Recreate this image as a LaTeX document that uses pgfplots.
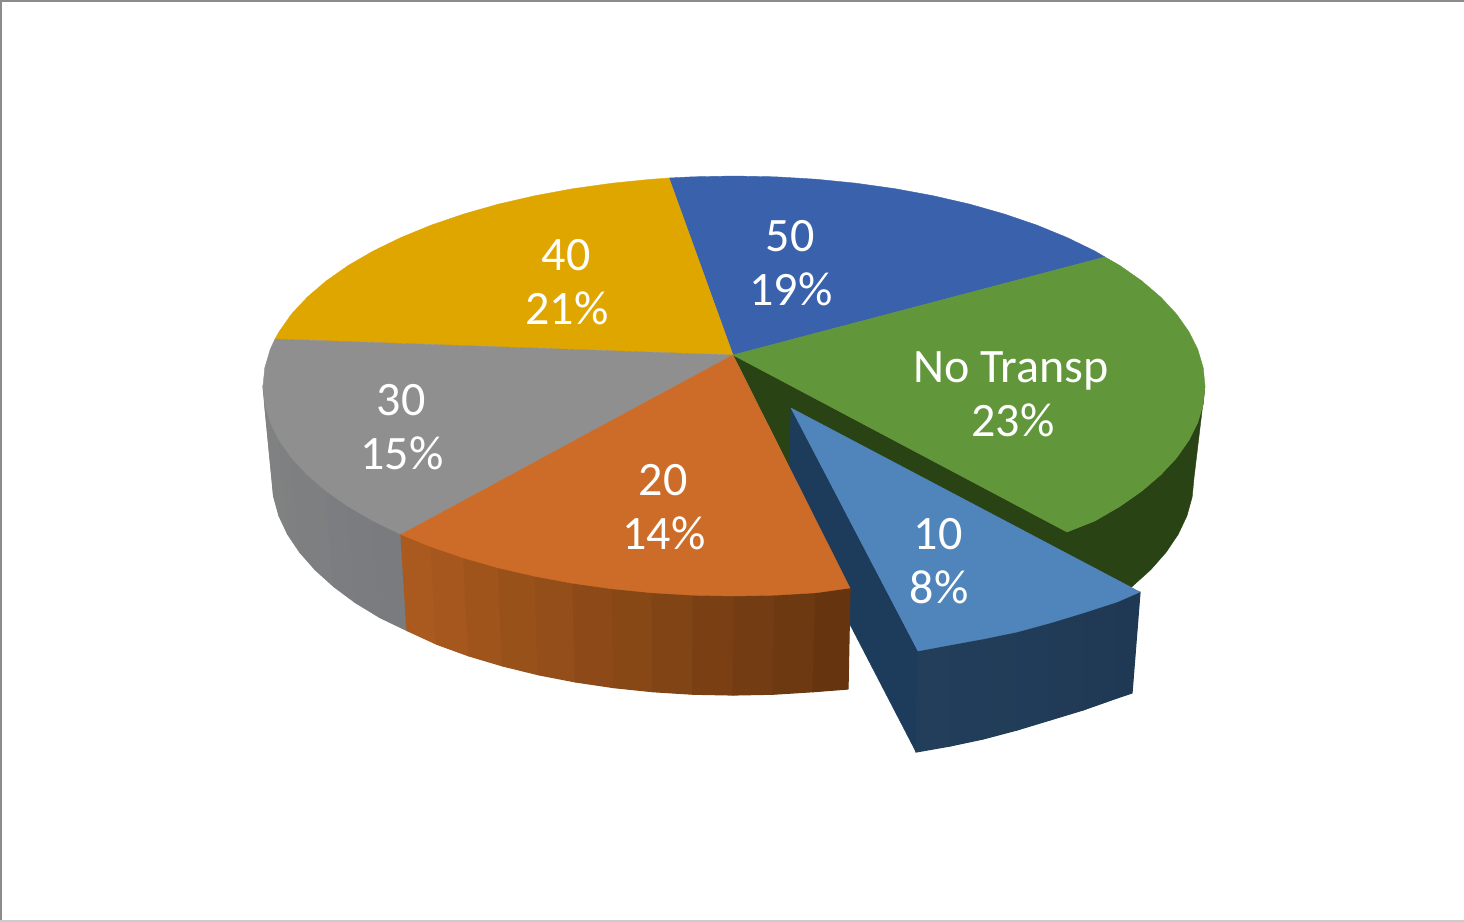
\documentclass[border=0pt]{standalone}
\usepackage{pgfplots}
\usepackage{fontspec}
\setmainfont{Carlito}
\pgfplotsset{compat=1.18}

\definecolor{cBlue}{RGB}{58,98,172}
\definecolor{cGreen}{RGB}{98,150,58}
\definecolor{cGreenDark}{RGB}{42,67,21}
\definecolor{cYellow}{RGB}{224,166,0}
\definecolor{cGray}{RGB}{143,143,143}
\definecolor{cOrange}{RGB}{205,108,40}
\definecolor{cSky}{RGB}{80,133,187}
\definecolor{cNavy}{RGB}{29,60,92}
\definecolor{sideGrayA}{RGB}{130,130,130}
\definecolor{sideGrayB}{RGB}{121,123,127}
\definecolor{sideOrangeA}{RGB}{170,90,30}
\definecolor{sideOrangeB}{RGB}{102,53,15}
\definecolor{sideNavyA}{RGB}{35,62,90}
\definecolor{sideNavyB}{RGB}{31,57,85}

% one facet of a slice wall: fill colour, then four corners
\newcommand{\band}[5]{\addplot[fill={#1},draw={#1},line width=0.6pt,line join=round] coordinates {#2 #3 #4 #5} --cycle;}
% one label: horizontal centre, baseline, text
\newcommand{\lab}[3]{\node[anchor=base,text=white,inner sep=0pt,font=\fontsize{24}{24}\selectfont] at (axis cs:#1,#2) {#3};}

\begin{document}
\begin{tikzpicture}
\useasboundingbox (0,0) rectangle (732pt,461pt);
\begin{axis}[
  at={(0,0)}, anchor=south west,
  width=732pt, height=461pt, scale only axis,
  hide axis, xmin=0, xmax=1464, ymin=0, ymax=922, y dir=reverse,
]
% frame
\addplot[draw=black!45,line width=1pt] coordinates {(1,922) (1,0.5) (1464,0.5)};
\addplot[draw=black!20,line width=1pt] coordinates {(0,921) (1464,921)};

% walls of the grey slice
\band{sideGrayA!100!sideGrayB}{(263,386)}{(264.8,404.3)}{(273.8,496.9)}{(272,478)}
\band{sideGrayA!90!sideGrayB}{(264.8,404.3)}{(270.2,422.5)}{(279,515.7)}{(273.8,496.9)}
\band{sideGrayA!80!sideGrayB}{(270.2,422.5)}{(279.1,440.3)}{(287.7,534.2)}{(279,515.7)}
\band{sideGrayA!70!sideGrayB}{(279.1,440.3)}{(291.4,457.8)}{(299.8,552.2)}{(287.7,534.2)}
\band{sideGrayA!60!sideGrayB}{(291.4,457.8)}{(307.1,474.7)}{(315.2,569.7)}{(299.8,552.2)}
\band{sideGrayA!50!sideGrayB}{(307.1,474.7)}{(326.1,491)}{(333.8,586.5)}{(315.2,569.7)}
\band{sideGrayA!35!sideGrayB}{(326.1,491)}{(348.2,506.5)}{(355.3,602.5)}{(333.8,586.5)}
\band{sideGrayA!20!sideGrayB}{(348.2,506.5)}{(373.2,521)}{(379.9,617.5)}{(355.3,602.5)}
\band{sideGrayA!0!sideGrayB}{(373.2,521)}{(401,534.5)}{(407,630.5)}{(379.9,617.5)}

% walls of the green slice
\addplot[fill=cGreenDark,draw=cGreenDark,line width=0.2pt] coordinates {
  (733,355) (1067,532) (1094.8,521) (1119.8,506.5) (1141.9,491) (1160.9,474.7)
  (1176.6,457.8) (1188.9,440.3) (1197.8,422.5) (1203.2,404.3) (1205,386)
  (1194,478) (1192.2,496.9) (1187,515.7) (1178.3,534.2) (1166.2,552.2)
  (1150.8,569.7) (1132.2,586.5) (1110.7,602.5) (1086.1,617.5) (1059,631.4)
  (733,450)} --cycle;

% top faces
\addplot[fill=cBlue,draw=cBlue,line width=0.2pt] coordinates {
  (733,355) (669,178) (692.9,176.8) (734,176) (775.1,176.8) (815.8,179.2)
  (855.9,183.2) (895.1,188.7) (933,195.7) (969.5,204.1) (1004.2,214)
  (1036.8,225.1) (1067,237.5) (1094.8,251) (1105,257)} --cycle;
\addplot[fill=cGreen,draw=cGreen,line width=0.2pt] coordinates {
  (733,355) (1105,257) (1119.8,265.5) (1141.9,281) (1160.9,297.3) (1176.6,314.2)
  (1188.9,331.7) (1197.8,349.5) (1203.2,367.7) (1205,386) (1203.2,404.3)
  (1197.8,422.5) (1188.9,440.3) (1176.6,457.8) (1160.9,474.7) (1141.9,491)
  (1119.8,506.5) (1094.8,521) (1067,532)} --cycle;
\addplot[fill=cYellow,draw=cYellow,line width=0.2pt] coordinates {
  (733,355) (275,339) (279.1,331.7) (291.4,314.2) (307.1,297.3) (326.1,281)
  (348.2,265.5) (373.2,251) (401,237.5) (431.2,225.1) (463.8,214) (498.5,204.1)
  (535,195.7) (572.9,188.7) (612.1,183.2) (652.2,179.2) (669,178)} --cycle;
\addplot[fill=cGray,draw=cGray,line width=0.2pt] coordinates {
  (733,355) (275,339) (270.2,349.5) (264.8,367.7) (263,386) (264.8,404.3)
  (270.2,422.5) (279.1,440.3) (291.4,457.8) (307.1,474.7) (326.1,491)
  (348.2,506.5) (373.2,521) (401,534.5)} --cycle;

% pulled-out slice: cut face, front wall, top
\addplot[fill=cNavy,draw=cNavy,line width=0.2pt] coordinates {
  (791,408) (918,651) (916,752) (788,505)} --cycle;
\band{sideNavyA!100!sideNavyB}{(918,651)}{(950,645)}{(950,746)}{(916,752)}
\band{sideNavyA!85!sideNavyB}{(950,645)}{(983,639)}{(983,739)}{(950,746)}
\band{sideNavyA!70!sideNavyB}{(983,639)}{(1017,632)}{(1017,730)}{(983,739)}
\band{sideNavyA!55!sideNavyB}{(1017,632)}{(1050,623)}{(1050,720)}{(1017,730)}
\band{sideNavyA!40!sideNavyB}{(1050,623)}{(1083,613)}{(1083,710)}{(1050,720)}
\band{sideNavyA!20!sideNavyB}{(1083,613)}{(1117,602)}{(1117,698)}{(1083,710)}
\band{sideNavyA!0!sideNavyB}{(1117,602)}{(1140,592)}{(1132,693)}{(1117,698)}
\addplot[fill=cSky,draw=cSky,line width=0.2pt] coordinates {
  (791,408) (918,651) (950,645) (983,639) (1017,632) (1050,623) (1083,613) (1117,602) (1140,592)} --cycle;

% walls of the orange slice
\band{sideOrangeA!100!sideOrangeB}{(401,534.5)}{(431.2,546.9)}{(436.7,644.2)}{(407,630.5)}
\band{sideOrangeA!92!sideOrangeB}{(431.2,546.9)}{(463.8,558)}{(468.6,655.8)}{(436.7,644.2)}
\band{sideOrangeA!84!sideOrangeB}{(463.8,558)}{(498.5,567.9)}{(502.5,665.9)}{(468.6,655.8)}
\band{sideOrangeA!75!sideOrangeB}{(498.5,567.9)}{(535,576.3)}{(538.2,674.7)}{(502.5,665.9)}
\band{sideOrangeA!67!sideOrangeB}{(535,576.3)}{(572.9,583.3)}{(575.3,681.9)}{(538.2,674.7)}
\band{sideOrangeA!58!sideOrangeB}{(572.9,583.3)}{(612.1,588.8)}{(613.7,687.6)}{(575.3,681.9)}
\band{sideOrangeA!50!sideOrangeB}{(612.1,588.8)}{(652.2,592.8)}{(653,691.7)}{(613.7,687.6)}
\band{sideOrangeA!40!sideOrangeB}{(652.2,592.8)}{(692.9,595.2)}{(692.8,694.2)}{(653,691.7)}
\band{sideOrangeA!30!sideOrangeB}{(692.9,595.2)}{(734,596)}{(733,695)}{(692.8,694.2)}
\band{sideOrangeA!20!sideOrangeB}{(734,596)}{(775.1,595.2)}{(773.2,694.2)}{(733,695)}
\band{sideOrangeA!10!sideOrangeB}{(775.1,595.2)}{(815.8,592.8)}{(813,691.7)}{(773.2,694.2)}
\band{sideOrangeA!0!sideOrangeB}{(815.8,592.8)}{(850,588)}{(848,689)}{(813,691.7)}
\addplot[fill=cOrange,draw=cOrange,line width=0.2pt] coordinates {
  (733,355) (401,534.5) (431.2,546.9) (463.8,558) (498.5,567.9) (535,576.3)
  (572.9,583.3) (612.1,588.8) (652.2,592.8) (692.9,595.2) (734,596) (775.1,595.2)
  (815.8,592.8) (850,588)} --cycle;

% slice labels
\lab{790}{251}{50}      \lab{791}{305.5}{19\%}
\lab{566}{270}{40}      \lab{567}{324.5}{21\%}
\lab{401}{415}{30}      \lab{402}{469}{15\%}
\lab{663}{495}{20}      \lab{664}{549}{14\%}
\lab{1011}{382}{No Transp} \lab{1013}{436}{23\%}
\lab{938}{549}{10}      \lab{939}{603}{8\%}
\end{axis}
\end{tikzpicture}
\end{document}
